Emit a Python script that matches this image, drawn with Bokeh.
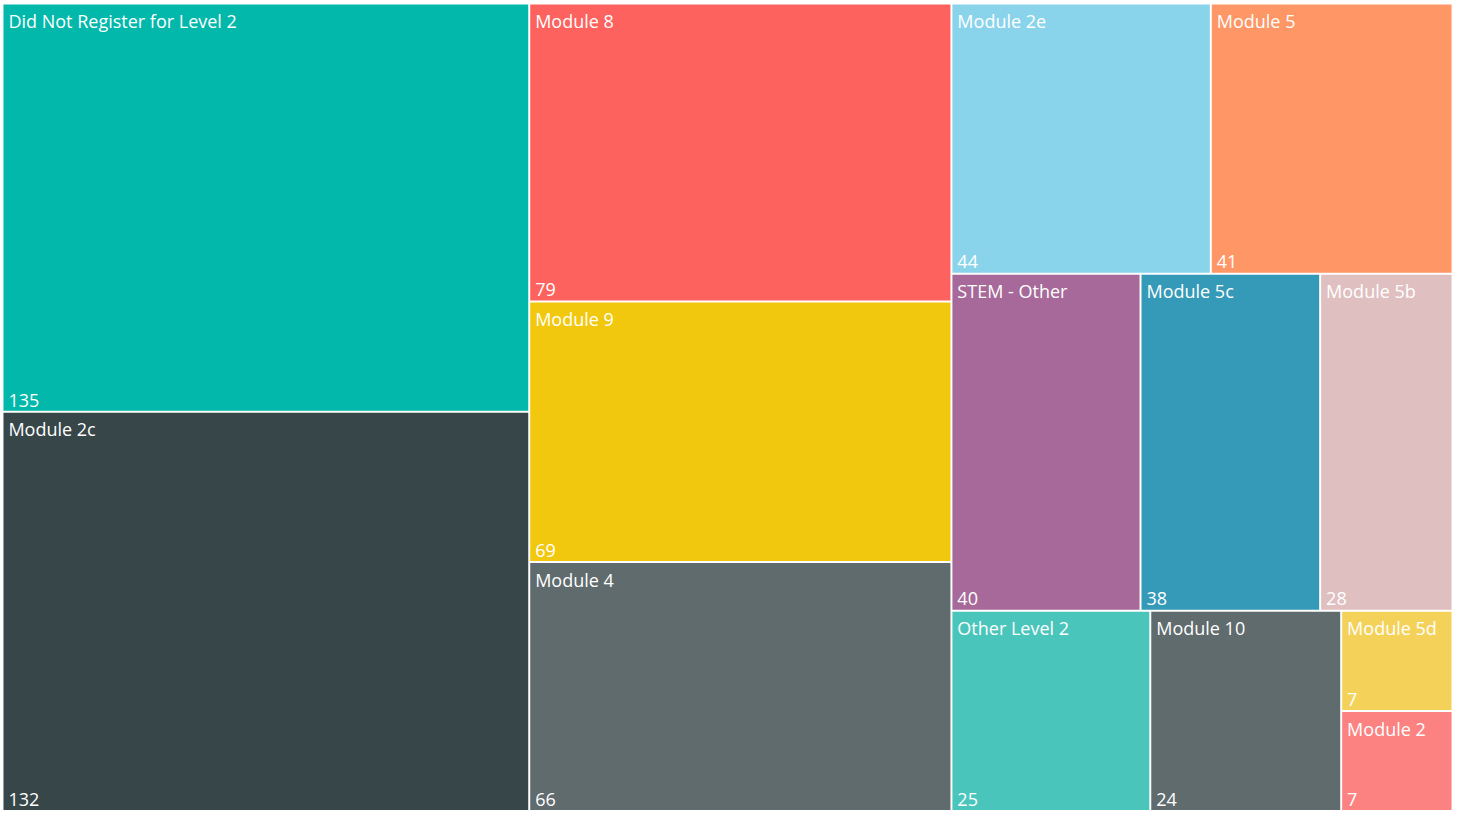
from bokeh.plotting import figure
from bokeh.models import ColumnDataSource, Range1d
from bokeh.core.properties import value
from bokeh.embed import file_html
from bokeh.resources import INLINE

categories = ["Did Not Register for Level 2", "Module 2c", "Module 8", "Module 9",
              "Module 4", "Module 2e", "Module 5", "STEM - Other", "Module 5c",
              "Module 5b", "Other Level 2", "Module 10", "Module 5d", "Module 2"]
counts = [135, 132, 79, 69, 66, 44, 41, 40, 38, 28, 25, 24, 7, 7]
colors = ["#01B8AA", "#374649", "#FD625E", "#F2C80F", "#5F6B6D", "#8AD4EB",
          "#FE9666", "#A66999", "#3599B8", "#DFBFBF", "#4AC5BB", "#5F6B6D",
          "#F4D25A", "#FB8281"]

PHI = (1 + 5 ** 0.5) / 2


def squarify(values, x0, y0, x1, y1, ratio=PHI):
    """d3-style squarified treemap layout (target aspect ratio = phi)."""
    rects = [None] * len(values)
    total = float(sum(values))
    n = len(values)
    i0 = i1 = 0
    while i0 < n:
        dx, dy = x1 - x0, y1 - y0
        sum_v = values[i1]
        i1 += 1
        min_v = max_v = sum_v
        alpha = max(dy / dx, dx / dy) / (total * ratio)
        beta = sum_v * sum_v * alpha
        min_ratio = max(max_v / beta, beta / min_v)
        while i1 < n:
            v = values[i1]
            s = sum_v + v
            mn, mx = min(min_v, v), max(max_v, v)
            beta = s * s * alpha
            nr = max(mx / beta, beta / mn)
            if nr > min_ratio:
                break
            sum_v, min_v, max_v, min_ratio = s, mn, mx, nr
            i1 += 1
        row = range(i0, i1)
        if dx < dy:
            ny = y0 + dy * sum_v / total if i1 < n else y1
            cx = x0
            for i in row:
                w = dx * values[i] / sum_v
                rects[i] = (cx, y0, cx + w, ny)
                cx += w
            y0 = ny
        else:
            nx = x0 + dx * sum_v / total if i1 < n else x1
            cy = y0
            for i in row:
                h = dy * values[i] / sum_v
                rects[i] = (x0, cy, nx, cy + h)
                cy += h
            x0 = nx
        total -= sum_v
        i0 = i1
    return rects


# Layout computed in a 1471x830 canvas space (y grows downward),
# then mapped onto the figure by its ranges.
CW, CH = 1471.0, 830.0
W, H = 1455, 814

rects = squarify(counts, 2.0, 3.0, CW - 3.0, CH - 3.5)
pad = 1.0
left = [r[0] + pad for r in rects]
top = [r[1] + pad for r in rects]
right = [r[2] - pad for r in rects]
bottom = [r[3] - pad for r in rects]

src = ColumnDataSource(dict(
    left=left, right=right, top=top, bottom=bottom, color=colors,
    name=categories, val=[str(c) for c in counts],
    lx=[l + 5 for l in left],
    ny=[t + 17 for t in top],
    vy=[b - 11 for b in bottom],
))

p = figure(width=W, height=H, output_backend="svg", toolbar_location=None,
           x_range=Range1d(0, CW), y_range=Range1d(CH, 0),
           min_border=0, outline_line_color=None, background_fill_color="white",
           border_fill_color="white")
p.axis.visible = False
p.grid.visible = False

p.quad(left="left", right="right", top="top", bottom="bottom", source=src,
       fill_color="color", line_color=None)

p.text(x="lx", y="ny", text="name", source=src, text_color="white",
       text_font=value("Open Sans"), text_font_size="18px",
       text_baseline="alphabetic", text_align="left")
p.text(x="lx", y="vy", text="val", source=src, text_color="white",
       text_font=value("Open Sans"), text_font_size="18px",
       text_baseline="alphabetic", text_align="left")

open("out.html", "w").write(file_html(p, INLINE))
